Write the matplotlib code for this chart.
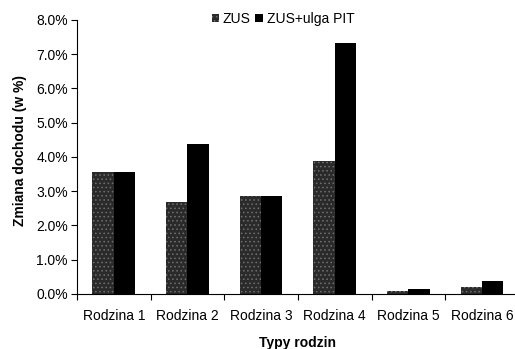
import matplotlib.pyplot as plt
import numpy as np

plt.rcParams['font.family'] = ['Liberation Sans', 'DejaVu Sans']
plt.rcParams['hatch.linewidth'] = 0.6

# Change of income per family type, in %
families = ['Rodzina 1', 'Rodzina 2', 'Rodzina 3', 'Rodzina 4', 'Rodzina 5', 'Rodzina 6']
zus = [3.57, 2.70, 2.87, 3.87, 0.10, 0.21]
zus_pit = [3.57, 4.37, 2.87, 7.33, 0.14, 0.38]
yticks = [0, 1, 2, 3, 4, 5, 6, 7, 8]

fs = 10
fig = plt.figure(figsize=(5.15, 3.49), dpi=100)
ax = fig.add_axes([0.1495, 0.1576, 0.858, 0.7851])

x = np.arange(len(families))
w = 0.29
ax.bar(x - w/2, zus, w, facecolor='#2a2a2a', edgecolor='#707070',
       hatch='....', linewidth=0, label='ZUS')
ax.bar(x + w/2, zus_pit, w, color='black', linewidth=0, label='ZUS+ulga PIT')

ax.set_xlim(-0.5, len(families) - 0.5)
ax.set_ylim(0, 8)
ax.set_yticks(yticks)
ax.set_yticklabels([f'{v:.1f}%' for v in yticks], fontsize=fs)
ax.set_xticks(x)
ax.set_xticklabels(families, fontsize=fs)
ax.set_xticks(np.arange(len(families) + 1) - 0.5, minor=True)
ax.tick_params(axis='x', which='major', length=0, pad=11)
ax.tick_params(axis='x', which='minor', length=4, width=0.8)
ax.tick_params(axis='y', length=4, width=0.8, pad=2.5)

for s in ['top', 'right']:
    ax.spines[s].set_visible(False)
for s in ['left', 'bottom']:
    ax.spines[s].set_linewidth(0.8)

ax.set_ylabel('Zmiana dochodu (w %)', fontsize=fs, fontweight='bold')
ax.yaxis.set_label_coords(-0.113, 0.522)
ax.set_xlabel('Typy rodzin', fontsize=fs, fontweight='bold', labelpad=9)

ax.legend(loc='upper center', bbox_to_anchor=(0.466, 1.075), ncol=2, frameon=False,
          fontsize=fs, handlelength=0.55, handleheight=0.55, handletextpad=0.25,
          columnspacing=0.35)

fig.savefig('out.png', dpi=100)
